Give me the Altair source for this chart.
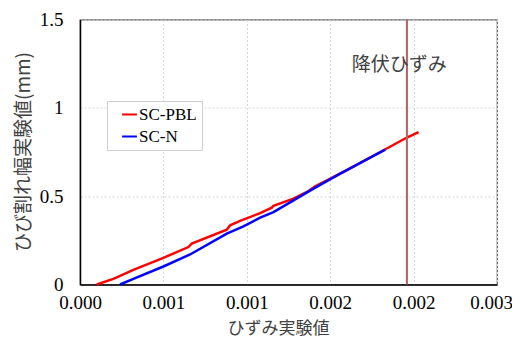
import json
import altair as alt
import pandas as pd

# SC-PBL (red)
pbl_strain = [0.00010, 0.00020, 0.00032, 0.00050, 0.00065, 0.00067, 0.00088, 0.00090,
              0.00096, 0.00108, 0.00115, 0.00116, 0.00128, 0.00137, 0.00141, 0.00160,
              0.00182, 0.00196, 0.00203]
pbl_width = [0.000, 0.032, 0.083, 0.151, 0.212, 0.231, 0.310, 0.335,
             0.360, 0.404, 0.435, 0.446, 0.486, 0.529, 0.556, 0.647,
             0.760, 0.832, 0.862]
# SC-N (blue)
n_strain = [0.00024, 0.00032, 0.00050, 0.00066, 0.00088, 0.00098, 0.00108, 0.00116,
            0.00128, 0.00140, 0.00156, 0.00183]
n_width = [0.000, 0.032, 0.102, 0.170, 0.288, 0.329, 0.378, 0.410,
           0.476, 0.543, 0.628, 0.764]

series_names = ["SC-PBL", "SC-N"]
series_colors = ["#FF0000", "#0000FF"]

yield_strain = [0.00196]
yield_label = ["降伏ひずみ"]

x_ticks = [0, 0.0005, 0.001, 0.0015, 0.002, 0.0025]
x_tick_labels = ["0.000", "0.001", "0.001", "0.002", "0.002", "0.003"]
y_ticks = [0, 0.5, 1.0, 1.5]
y_tick_labels = ["0", "0.5", "1", "1.5"]

rows = []
for i, (s, w) in enumerate(zip(pbl_strain, pbl_width)):
    rows.append({"series": series_names[0], "strain": s, "width": w, "order": i})
for i, (s, w) in enumerate(zip(n_strain, n_width)):
    rows.append({"series": series_names[1], "strain": s, "width": w, "order": i})
df = pd.DataFrame(rows)

serif = "Liberation Serif"
cjk = "Noto Sans CJK JP"

x_scale = alt.Scale(domain=[0, 0.0025], nice=False, zero=False)
y_scale = alt.Scale(domain=[0, 1.5], nice=False)

lines = alt.Chart(df).mark_line(strokeWidth=2.5).encode(
    x=alt.X("strain:Q", scale=x_scale, axis=alt.Axis(
        values=x_ticks,
        labelExpr=json.dumps(x_tick_labels) + "[round(datum.value/0.0005)]",
        labelOffset={"condition": {"test": "datum.value >= 0.0024", "value": -6}, "value": 0},
        title="ひずみ実験値", titleFont=cjk, titleFontSize=17, titleFontWeight="normal",
        titleColor="#404040", titleX=198, titleY=44, titleBaseline="middle",
        labelFont=serif, labelFontSize=19, labelColor="#000000", labelPadding=9,
        ticks=False, domainColor="#000000", domainWidth=1.5,
        grid=True, gridColor="#d6d6d6", gridDash=[2, 2], gridWidth=1,
        labelFlush=False)),
    y=alt.Y("width:Q", scale=y_scale, axis=alt.Axis(
        values=y_ticks,
        labelExpr=json.dumps(y_tick_labels) + "[round(datum.value/0.5)]",
        title="ひび割れ幅実験値(mm)", titleFont=cjk, titleFontSize=19, titleFontWeight="normal",
        titleColor="#404040", titleX=-57, titleY=132, titleAngle=-90,
        titleAlign="center", titleBaseline="middle",
        labelFont=serif, labelFontSize=19, labelColor="#000000", labelPadding=17,
        ticks=False, domainColor="#000000", domainWidth=1.5,
        grid=True, gridColor="#d6d6d6", gridDash=[2, 2], gridWidth=1,
        labelFlush=False)),
    color=alt.Color("series:N", scale=alt.Scale(domain=series_names, range=series_colors),
                    legend=alt.Legend(
                        title=None, orient="none", legendX=27, legendY=81.5,
                        symbolType="stroke", symbolStrokeWidth=2, symbolSize=220,
                        symbolOffset=9,
                        labelFont=serif, labelFontSize=17, labelColor="#000000",
                        labelOffset=1, rowPadding=4,
                        strokeColor="#cfcfcf", fillColor="#ffffff", padding=5)),
    order="order:Q",
)

ydf = pd.DataFrame({"strain": yield_strain})
rule = alt.Chart(ydf).mark_rule(color="#B5625E", strokeWidth=2).encode(x="strain:Q")

tdf = pd.DataFrame({"label": yield_label})
text = alt.Chart(tdf).mark_text(font=cjk, fontSize=19, color="#404040").encode(
    text="label:N",
    x=alt.datum(0.001914, scale=x_scale),
    y=alt.datum(1.242),
)

chart = alt.layer(lines, rule, text).properties(
    width=417, height=265,
    autosize=alt.AutoSizeParams(type="none"),
    padding={"left": 72, "top": 11.5, "right": 15, "bottom": 53},
).configure_view(stroke="#595959", strokeWidth=1.2)

chart.save("out.html", embed_options={"renderer": "svg", "actions": False})
